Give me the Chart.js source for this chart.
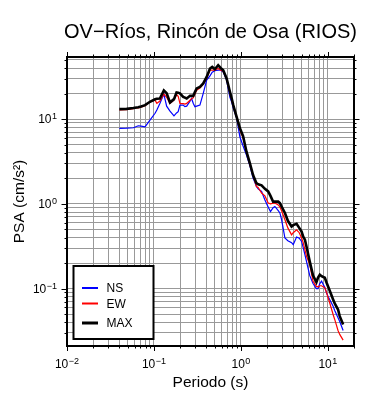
<!DOCTYPE html>
<html>
<head>
<meta charset="utf-8">
<script src="https://cdn.jsdelivr.net/npm/chart.js@4"></script>
<style>
  html, body { margin: 0; padding: 0; background: #fff; }
</style>
</head>
<body>
<canvas id="psaChart" width="390" height="400"></canvas>
<script>
// spectral periods (s) and PSA values (cm/s^2)
const periods = [
  0.040, 0.0485, 0.058, 0.063, 0.066, 0.071, 0.079, 0.090, 0.103, 0.108,
  0.117, 0.130, 0.140, 0.153, 0.170, 0.182, 0.190, 0.199, 0.217, 0.227,
  0.238, 0.260, 0.271, 0.283, 0.296, 0.310, 0.338, 0.369, 0.404, 0.441,
  0.468, 0.502, 0.548, 0.585, 0.627, 0.685, 0.748, 0.782, 0.817, 0.893,
  0.975, 1.06, 1.16, 1.27, 1.38, 1.51, 1.58, 1.73, 1.89, 2.06,
  2.19, 2.35, 2.46, 2.69, 2.81, 2.94, 3.21, 3.47, 3.83, 4.00,
  4.37, 4.69, 4.99, 5.21, 5.45, 5.69, 6.20, 6.76, 7.39, 7.72,
  8.09, 8.47, 9.24, 9.66, 10.07, 10.5, 11.5, 12.0, 13.1, 13.7,
  15.0
];
const nsValues = [
  7.78, 7.8, 7.9, 8.16, 8.34, 8.27, 8.12, 9.73, 11.7, 12.8,
  15.3, 19.7, 14.2, 12.4, 10.9, 11.8, 12.2, 14.6, 14.6, 14.0,
  14.2, 16.3, 17.5, 15.4, 14.0, 14.2, 14.6, 20.1, 28.8, 32.3,
  35.7, 37.2, 37.7, 37.7, 36.0, 28.8, 18.1, 16.0, 13.5, 10.3,
  6.14, 4.81, 3.77, 2.80, 2.02, 1.60, 1.50, 1.40, 1.11, 0.92,
  0.81, 0.90, 0.93, 0.83, 0.78, 0.65, 0.395, 0.367, 0.348, 0.33,
  0.406, 0.393, 0.36, 0.304, 0.251, 0.208, 0.142, 0.1145, 0.100, 0.100,
  0.1145, 0.122, 0.103, 0.089, 0.0805, 0.0743, 0.062, 0.0551, 0.0452, 0.0409,
  0.032
];
const ewValues = [
  12.8, 12.9, 13.3, 13.5, 13.5, 13.8, 14.4, 16.0, 16.7, 15.3,
  16.3, 19.7, 18.1, 15.3, 16.7, 19.5, 18.6, 15.3, 15.2, 15.0,
  15.3, 16.7, 17.4, 17.8, 19.7, 21.9, 23.2, 25.8, 30.4, 37.7,
  37.7, 37.7, 39.5, 37.7, 36.7, 30.1, 20.2, 17.0, 14.2, 10.6,
  7.42, 5.98, 4.09, 2.88, 2.19, 1.60, 1.56, 1.34, 1.24, 1.02,
  1.00, 1.02, 1.02, 0.97, 0.92, 0.83, 0.65, 0.52, 0.43, 0.456,
  0.494, 0.456, 0.395, 0.348, 0.288, 0.24, 0.192, 0.122, 0.106, 0.105,
  0.108, 0.108, 0.102, 0.090, 0.078, 0.068, 0.0494, 0.0432, 0.032, 0.0288,
  0.0246
];
const maxValues = [
  13.1, 13.2, 13.5, 13.7, 13.8, 14.1, 14.6, 16.0, 17.1, 17.4,
  17.5, 21.8, 20.2, 15.7, 17.2, 20.6, 20.5, 20.1, 18.3, 17.9,
  17.5, 18.8, 18.8, 18.8, 20.8, 23.0, 24.0, 26.3, 31.4, 39.5,
  41.2, 38.7, 43.2, 40.1, 37.7, 30.1, 21.0, 17.7, 14.6, 10.6,
  7.78, 6.31, 4.12, 3.01, 2.19, 1.75, 1.70, 1.65, 1.50, 1.40,
  1.24, 1.06, 1.06, 1.06, 1.02, 0.93, 0.78, 0.63, 0.54, 0.56,
  0.58, 0.52, 0.47, 0.41, 0.377, 0.312, 0.208, 0.142, 0.119, 0.135,
  0.146, 0.140, 0.134, 0.118, 0.106, 0.0947, 0.0743, 0.0667, 0.0566, 0.0472,
  0.0377
];

const seriesNames = ['NS', 'EW', 'MAX'];

// axes
const xMin = 0.01, xMax = 20;
const yMin = 0.021, yMax = 54;
const xMajor = [0.01, 0.1, 1, 10];
const xTickExp = ['\u22122', '\u22121', '0', '1'];
const yMajor = [0.1, 1, 10];
const yTickExp = ['\u22121', '0', '1'];

const titleText = 'OV\u2212R\u00edos, Rinc\u00f3n de Osa (RIOS)';
const xTitle = 'Periodo (s)';
const yTitle = 'PSA (cm/s\u00b2)';

const FONT = "'Liberation Sans', Arial, Helvetica, sans-serif";

// 1..9 x 10^k inside a range, used for grid lines and ticks
function logSteps(lo, hi) {
  var out = [];
  for (var e = -3; e <= 2; e++) {
    for (var m = 1; m <= 9; m++) {
      var v = +(m * Math.pow(10, e)).toPrecision(6);
      if (v >= lo * 0.999 && v <= hi * 1.001) out.push(v);
    }
  }
  return out;
}
const xGrid = logSteps(xMin, xMax);
const yGrid = logSteps(yMin, yMax);

function isMajor(v) {
  var l = Math.log10(v);
  return Math.abs(l - Math.round(l)) < 1e-6;
}

function drawPow(ctx, exp, x, y, align) {
  ctx.font = '12px ' + FONT;
  var wb = ctx.measureText('10').width;
  ctx.font = '9px ' + FONT;
  var we = ctx.measureText(exp).width;
  var total = wb + we + 0.5;
  var left = align === 'center' ? x - total / 2 : x - total;
  ctx.textAlign = 'left';
  ctx.textBaseline = 'alphabetic';
  ctx.font = '12px ' + FONT;
  ctx.fillText('10', left, y + 4.3);
  ctx.font = '9px ' + FONT;
  ctx.fillText(exp, left + wb + 0.5, y);
}

const decorations = {
  id: 'decorations',
  afterDraw: function (chart) {
    var ctx = chart.ctx;
    var a = chart.chartArea;
    var xs = chart.scales.x, ys = chart.scales.y;
    ctx.save();
    ctx.fillStyle = '#000';
    ctx.strokeStyle = '#000';

    // outward ticks on all four sides
    ctx.lineWidth = 1;
    ctx.beginPath();
    xGrid.forEach(function (v) {
      var px = Math.round(xs.getPixelForValue(v)) + 0.5;
      var len = isMajor(v) ? 5 : 2.5;
      ctx.moveTo(px, a.top); ctx.lineTo(px, a.top - len);
      ctx.moveTo(px, a.bottom); ctx.lineTo(px, a.bottom + len);
    });
    yGrid.forEach(function (v) {
      var py = Math.round(ys.getPixelForValue(v)) + 0.5;
      var len = isMajor(v) ? 5.5 : 2.5;
      ctx.moveTo(a.left, py); ctx.lineTo(a.left - len, py);
      ctx.moveTo(a.right, py); ctx.lineTo(a.right + len, py);
    });
    ctx.stroke();

    // frame
    ctx.lineWidth = 2;
    ctx.strokeRect(a.left, a.top, a.right - a.left, a.bottom - a.top);

    // tick labels
    xMajor.forEach(function (v, i) {
      drawPow(ctx, xTickExp[i], xs.getPixelForValue(v), 363.5, 'center');
    });
    yMajor.forEach(function (v, i) {
      drawPow(ctx, yTickExp[i], 57, ys.getPixelForValue(v), 'right');
    });

    // titles
    ctx.textAlign = 'center';
    ctx.textBaseline = 'alphabetic';
    ctx.font = '20px ' + FONT;
    ctx.fillText(titleText, (a.left + a.right) / 2, 38);
    ctx.font = '15.5px ' + FONT;
    ctx.fillText(xTitle, (a.left + a.right) / 2, 387);
    ctx.save();
    ctx.translate(24, (a.top + a.bottom) / 2);
    ctx.rotate(-Math.PI / 2);
    ctx.fillText(yTitle, 0, 0);
    ctx.restore();

    // legend box
    ctx.fillStyle = '#fff';
    ctx.fillRect(73.5, 266, 80, 73);
    ctx.lineWidth = 2;
    ctx.strokeStyle = '#000';
    ctx.strokeRect(73.5, 266, 80, 73);
    var rows = [288, 303.5, 323];
    chart.data.datasets.forEach(function (ds, i) {
      ctx.strokeStyle = ds.borderColor;
      ctx.lineWidth = i === 2 ? 3 : 2;
      ctx.beginPath();
      ctx.moveTo(82, rows[i]);
      ctx.lineTo(98, rows[i]);
      ctx.stroke();
      ctx.fillStyle = '#000';
      ctx.font = '12px ' + FONT;
      ctx.textAlign = 'left';
      ctx.fillText(ds.label, 106.5, rows[i] + 4.3);
    });
    ctx.restore();
  }
};

function points(vals) {
  return periods.map(function (p, i) { return { x: p, y: vals[i] }; });
}

var ctx = document.getElementById('psaChart').getContext('2d');
var psaChart = new Chart(ctx, {
  type: 'line',
  data: {
    datasets: [{
      label: seriesNames[0],
      data: points(nsValues),
      borderColor: '#0000ff',
      borderWidth: 1.2,
      order: 2
    }, {
      label: seriesNames[1],
      data: points(ewValues),
      borderColor: '#ff0000',
      borderWidth: 1.2,
      order: 1
    }, {
      label: seriesNames[2],
      data: points(maxValues),
      borderColor: '#000000',
      borderWidth: 2.6,
      order: 0
    }]
  },
  options: {
    responsive: false,
    animation: false,
    devicePixelRatio: 1,
    layout: { padding: { left: 67, right: 36, top: 57, bottom: 54 } },
    elements: { point: { radius: 0 }, line: { tension: 0, fill: false } },
    plugins: { legend: { display: false }, tooltip: { enabled: false } },
    scales: {
      x: {
        type: 'logarithmic',
        min: xMin, max: xMax,
        bounds: 'data',
        ticks: { display: false },
        grid: { color: '#999', lineWidth: 1, drawTicks: false },
        border: { display: false },
        afterBuildTicks: function (s) { s.ticks = xGrid.map(function (v) { return { value: v }; }); },
        afterFit: function (s) { s.height = 0; }
      },
      y: {
        type: 'logarithmic',
        min: yMin, max: yMax,
        bounds: 'data',
        ticks: { display: false },
        grid: { color: '#999', lineWidth: 1, drawTicks: false },
        border: { display: false },
        afterBuildTicks: function (s) { s.ticks = yGrid.map(function (v) { return { value: v }; }); },
        afterFit: function (s) { s.width = 0; }
      }
    }
  },
  plugins: [decorations]
});
</script>
</body>
</html>
